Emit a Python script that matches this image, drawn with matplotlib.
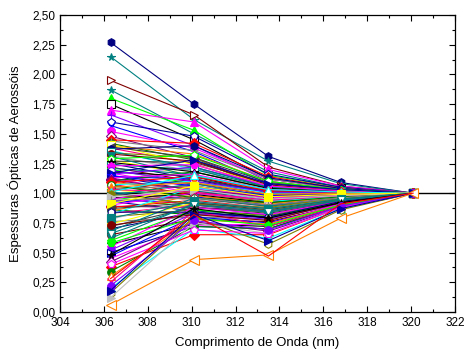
import matplotlib
matplotlib.use("Agg")
import matplotlib.pyplot as plt
from matplotlib.ticker import MultipleLocator, FuncFormatter


FONT = ["Liberation Sans", "DejaVu Sans"]

# comprimentos de onda (nm)
wavelengths = [306.3, 310.1, 313.5, 316.8, 320.1]

# espessuras ópticas normalizadas em 320.1 nm, uma entrada por série
aod_306 = [2.27, 2.15, 1.95, 1.87, 1.80, 1.75, 1.70, 1.66, 1.60, 1.57,
           1.52, 1.48, 1.45, 1.42, 1.40, 1.38, 1.36, 1.34, 1.32, 1.30,
           1.28, 1.27, 1.25, 1.24, 1.22, 1.21, 1.20, 1.18, 1.17, 1.16,
           1.15, 1.14, 1.13, 1.12, 1.11, 1.10, 1.09, 1.08, 1.07, 1.06,
           1.05, 1.04, 1.03, 1.02, 1.01, 1.00, 0.99, 0.98, 0.97, 0.96,
           0.95, 0.94, 0.93, 0.92, 0.90, 0.89, 0.88, 0.86, 0.85, 0.83,
           0.82, 0.80, 0.78, 0.76, 0.74, 0.72, 0.70, 0.68, 0.65, 0.62,
           0.60, 0.57, 0.55, 0.52, 0.50, 0.47, 0.45, 0.42, 0.38, 0.34,
           0.30, 0.25, 0.20, 0.16, 0.12,
           1.44, 1.41, 1.39, 1.37, 1.35, 1.33, 1.31, 1.29, 1.26, 1.23,
           1.19, 1.17, 1.15, 1.13, 1.11, 1.09, 1.07, 1.05, 1.03, 1.01,
           0.99, 0.97, 0.94, 0.91, 0.87, 0.84, 0.79, 0.73, 0.66, 0.58,
           0.48, 0.40, 0.22, 0.18,
           0.06, 0.28]
aod_310 = [1.75, 1.62, 1.66, 1.50, 1.53, 1.45, 1.60, 1.40, 1.48, 1.35,
           1.38, 1.30, 1.42, 1.28, 1.33, 1.25, 1.20, 1.30, 1.18, 1.22,
           1.15, 1.26, 1.12, 1.20, 1.10, 1.16, 1.08, 1.14, 1.05, 1.22,
           1.02, 1.12, 1.00, 1.08, 0.98, 1.18, 1.04, 0.95, 1.10, 1.00,
           0.93, 1.06, 0.97, 1.12, 0.90, 1.02, 0.95, 1.08, 0.88, 0.99,
           1.04, 0.92, 0.85, 0.97, 1.00, 0.88, 0.94, 0.82, 0.98, 0.90,
           1.05, 0.86, 0.95, 0.80, 0.92, 0.88, 0.84, 0.96, 0.78, 0.91,
           0.86, 0.74, 0.88, 0.83, 0.72, 0.80, 0.73, 0.76, 0.65, 0.72,
           0.78, 0.85, 0.70, 0.80, 0.75,
           1.36, 1.24, 1.30, 1.40, 1.22, 1.27, 1.14, 1.32, 1.18, 1.24,
           1.10, 1.28, 1.06, 1.16, 1.03, 1.14, 0.96, 1.09, 1.01, 1.15,
           0.91, 1.03, 0.96, 1.06, 0.92, 0.84, 0.93, 0.82, 0.90, 0.79,
           0.87, 0.69, 0.77, 0.82,
           0.44, 0.82]
aod_313 = [1.31, 1.27, 1.22, 1.18, 1.15, 1.12, 1.20, 1.10, 1.16, 1.08,
           1.12, 1.06, 1.14, 1.05, 1.10, 1.04, 1.08, 1.02, 1.06, 1.00,
           1.04, 1.08, 0.98, 1.05, 1.02, 0.96, 1.03, 1.00, 0.97, 1.06,
           0.95, 1.01, 0.94, 0.99, 0.92, 1.04, 0.96, 0.90, 1.00, 0.93,
           0.88, 0.98, 0.91, 1.02, 0.86, 0.95, 0.89, 0.97, 0.84, 0.92,
           0.96, 0.87, 0.82, 0.90, 0.94, 0.85, 0.88, 0.80, 0.91, 0.84,
           0.93, 0.81, 0.88, 0.78, 0.86, 0.83, 0.79, 0.89, 0.76, 0.85,
           0.80, 0.72, 0.82, 0.78, 0.70, 0.75, 0.74, 0.68, 0.65, 0.70,
           0.74, 0.72, 0.62, 0.57, 0.66,
           1.12, 1.07, 1.09, 1.13, 1.05, 1.07, 1.03, 1.10, 1.04, 1.06,
           1.01, 1.08, 0.98, 1.03, 0.97, 1.02, 0.92, 0.99, 0.94, 1.03,
           0.88, 0.95, 0.90, 0.97, 0.86, 0.80, 0.87, 0.77, 0.84, 0.73,
           0.79, 0.66, 0.69, 0.60,
           0.48, 0.47]
aod_317 = [1.09, 1.08, 1.06, 1.05, 1.05, 1.04, 1.06, 1.03, 1.05, 1.03,
           1.04, 1.02, 1.04, 1.02, 1.03, 1.01, 1.03, 1.01, 1.02, 1.00,
           1.02, 1.03, 1.00, 1.02, 1.01, 0.99, 1.01, 1.00, 0.99, 1.02,
           0.98, 1.01, 0.98, 1.00, 0.97, 1.02, 0.99, 0.96, 1.00, 0.98,
           0.95, 0.99, 0.97, 1.01, 0.95, 0.98, 0.96, 0.99, 0.94, 0.97,
           0.99, 0.95, 0.93, 0.96, 0.98, 0.94, 0.95, 0.92, 0.97, 0.94,
           0.97, 0.93, 0.95, 0.91, 0.95, 0.93, 0.92, 0.96, 0.90, 0.94,
           0.92, 0.89, 0.93, 0.91, 0.90, 0.90, 0.91, 0.88, 0.88, 0.89,
           0.90, 0.89, 0.87, 0.86, 0.88,
           1.04, 1.02, 1.03, 1.04, 1.02, 1.02, 1.01, 1.03, 1.01, 1.02,
           1.00, 1.03, 0.99, 1.01, 0.99, 1.01, 0.97, 1.00, 0.98, 1.01,
           0.96, 0.98, 0.96, 0.99, 0.95, 0.93, 0.95, 0.92, 0.94, 0.90,
           0.92, 0.88, 0.89, 0.87,
           0.79, 0.91]
aod_320 = [1.00] * len(aod_306)

# paleta e símbolos no estilo do Origin
COLORS = ["#000080", "#008080", "#800000", "#008080", "#00FF00", "#000000",
          "#FF00FF", "#8000FF", "#0000A0", "#0000FF", "#FF00FF", "#800080",
          "#FF0000", "#008000", "#FF8000", "#FF0080", "#00FFFF", "#808000",
          "#C0C0C0", "#808080", "#FFFF00", "#404040"]
MARKERS = ["h", "*", ">", "*", "^", "s", "^", "+", "p", "x", "o", "D",
           "s", "o", "^", "v", "D", "<", ">", "h", "p", "o"]


def main():
    plt.rcParams["font.family"] = FONT

    fig = plt.figure(figsize=(4.66, 3.52), dpi=100)
    ax = fig.add_axes([0.129, 0.114, 0.847, 0.843])

    ax.axhline(1.0, color="black", linewidth=1.0, zorder=1)

    n = len(aod_306)
    for i in range(n):
        ys = [aod_306[i], aod_310[i], aod_313[i], aod_317[i], aod_320[i]]
        color = COLORS[i % len(COLORS)]
        marker = MARKERS[i] if i <= 10 else MARKERS[(i * 5) % len(MARKERS)]
        hollow = (i % 3 == 2) and marker not in ("+", "x", "*")
        size = 5.5
        z = 2
        if i == n - 2:
            # série laranja com triângulos vazios
            color, marker, hollow, size, z = "#FF8000", "<", True, 6.5, 3
        elif i == n - 1:
            color, marker, z = "#FF0000", "", 3
        ax.plot(
            wavelengths,
            ys,
            color=color,
            linewidth=0.8,
            marker=marker if marker else None,
            markersize=size,
            markerfacecolor="white" if hollow else color,
            markeredgecolor=color,
            markeredgewidth=0.8,
            zorder=z,
        )

    ax.set_xlim(304, 322)
    ax.set_ylim(0, 2.5)
    ax.xaxis.set_major_locator(MultipleLocator(2))
    ax.xaxis.set_minor_locator(MultipleLocator(1))
    ax.yaxis.set_major_locator(MultipleLocator(0.25))
    ax.yaxis.set_minor_locator(MultipleLocator(0.125))
    ax.yaxis.set_major_formatter(FuncFormatter(lambda v, p: f"{v:.2f}".replace(".", ",")))

    ax.tick_params(which="both", direction="in", top=True, right=True, labelsize=8.5,
                   width=0.8)
    ax.tick_params(which="major", length=4)
    ax.tick_params(which="minor", length=2)
    for sp in ax.spines.values():
        sp.set_linewidth(0.9)

    ax.set_xlabel("Comprimento de Onda (nm)", fontsize=9.5, labelpad=6)
    ax.set_ylabel("Espessuras Ópticas de Aerossóis", fontsize=9.5, labelpad=7)

    fig.savefig("out.png", dpi=100)
    plt.close(fig)


main()
